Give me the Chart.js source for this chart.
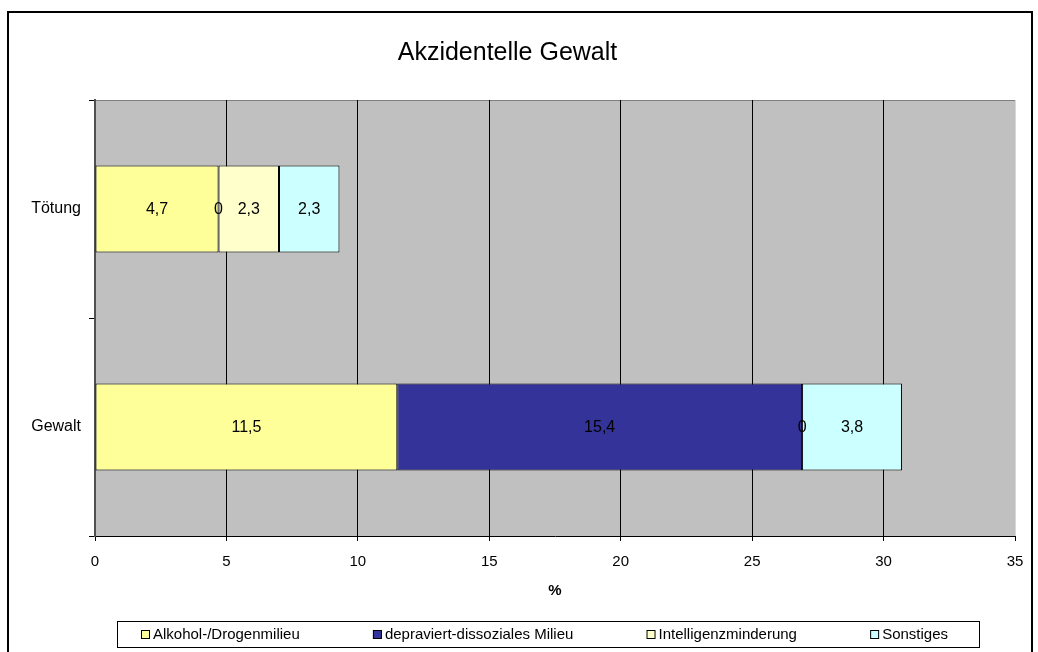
<!DOCTYPE html>
<html lang="de">
<head>
    <meta charset="UTF-8">
    <title>Akzidentelle Gewalt</title>
    <script src="https://cdn.jsdelivr.net/npm/chart.js@4.4.1/dist/chart.umd.min.js"></script>
    <style>
        body { margin: 0; background: #fff; }
        #wrap { width: 1038px; height: 652px; }
    </style>
</head>
<body>
    <div id="wrap">
        <canvas id="chart" width="1038" height="652"></canvas>
    </div>

    <script>
        // data
        const categories = ['Tötung', 'Gewalt'];
        const seriesNames = ['Alkohol-/Drogenmilieu', 'depraviert-dissoziales Milieu', 'Intelligenzminderung', 'Sonstiges'];
        const alkohol = [4.7, 11.5];
        const depraviert = [0, 15.4];
        const intelligenz = [2.3, 0];
        const sonstiges = [2.3, 3.8];
        const seriesColors = ['#FFFF99', '#333399', '#FFFFCC', '#CCFFFF'];
        const xMin = 0, xMax = 35, xStep = 5;

        const FONT = "'Liberation Sans', Arial, sans-serif";

        function fmt(v) {
            return String(v).replace('.', ',');
        }

        const values = [alkohol, depraviert, intelligenz, sonstiges];
        const datasets = seriesNames.map((name, i) => ({
            label: name,
            data: values[i],
            backgroundColor: seriesColors[i],
            borderColor: '#000',
            borderWidth: 1,
            borderSkipped: false,
            categoryPercentage: 1,
            barPercentage: 0.4
        }));

        // grey plot background + outer frame
        const frame = {
            id: 'frame',
            beforeDraw(chart) {
                const { ctx, chartArea: a } = chart;
                ctx.save();
                ctx.fillStyle = '#fff';
                ctx.fillRect(0, 0, chart.width, chart.height);
                ctx.fillStyle = '#C0C0C0';
                ctx.fillRect(a.left, a.top, a.right - a.left, a.bottom - a.top);
                ctx.strokeStyle = '#808080';
                ctx.lineWidth = 1;
                ctx.beginPath();
                ctx.moveTo(a.left - 6, a.top + 0.5);
                ctx.lineTo(a.right, a.top + 0.5);
                ctx.stroke();
                ctx.restore();
            },
            afterDraw(chart) {
                const ctx = chart.ctx;
                ctx.save();
                ctx.strokeStyle = '#000';
                ctx.lineWidth = 2;
                ctx.strokeRect(8, 12, 1024, 700);
                ctx.restore();
            }
        };

        // value labels in the middle of each segment
        const valueLabels = {
            id: 'valueLabels',
            afterDatasetsDraw(chart) {
                const ctx = chart.ctx;
                ctx.save();
                ctx.font = '16px ' + FONT;
                ctx.fillStyle = '#000';
                ctx.textAlign = 'center';
                ctx.textBaseline = 'middle';
                chart.data.datasets.forEach((ds, i) => {
                    chart.getDatasetMeta(i).data.forEach((bar, j) => {
                        const v = ds.data[j];
                        if (v === null || v === undefined) return;
                        ctx.fillText(fmt(v), (bar.x + bar.base) / 2, bar.y + 1);
                    });
                });
                ctx.restore();
            }
        };

        // boxed legend strip at the bottom
        const boxLegend = {
            id: 'boxLegend',
            afterDraw(chart) {
                const ctx = chart.ctx;
                const boxL = 117, boxR = 979, boxT = 621, boxB = 647;
                const startX = 141, endX = 948, sq = 9, gapText = 3;
                ctx.save();
                ctx.font = '15px ' + FONT;
                const widths = chart.data.datasets.map(ds => sq + gapText + ctx.measureText(ds.label).width);
                const total = widths.reduce((s, w) => s + w, 0);
                const gap = (endX - startX - total) / (widths.length - 1);
                ctx.strokeStyle = '#000';
                ctx.lineWidth = 1;
                ctx.strokeRect(boxL + 0.5, boxT + 0.5, boxR - boxL, boxB - boxT);
                const cy = (boxT + boxB) / 2;
                let x = startX;
                chart.data.datasets.forEach((ds, i) => {
                    ctx.fillStyle = ds.backgroundColor;
                    ctx.fillRect(x, cy - 4, sq, sq);
                    ctx.strokeRect(x + 0.5, cy - 4 + 0.5, sq - 1, sq - 1);
                    ctx.fillStyle = '#000';
                    ctx.textAlign = 'left';
                    ctx.textBaseline = 'middle';
                    ctx.fillText(ds.label, x + sq + gapText, cy + 1);
                    x += widths[i] + gap;
                });
                ctx.restore();
            }
        };

        new Chart(document.getElementById('chart'), {
            type: 'bar',
            data: { labels: categories, datasets: datasets },
            plugins: [frame, valueLabels, boxLegend],
            options: {
                indexAxis: 'y',
                responsive: false,
                animation: false,
                layout: { padding: { left: 0, right: 23, top: 0, bottom: 52 } },
                plugins: {
                    legend: { display: false },
                    tooltip: { enabled: false },
                    title: {
                        display: true,
                        text: 'Akzidentelle Gewalt',
                        color: '#000',
                        font: { family: FONT, size: 25, weight: 'normal' },
                        padding: { top: 38, bottom: 32 }
                    }
                },
                scales: {
                    x: {
                        stacked: true,
                        min: xMin,
                        max: xMax,
                        ticks: {
                            stepSize: xStep,
                            color: '#000',
                            padding: 12,
                            font: { family: FONT, size: 15 }
                        },
                        grid: {
                            color: c => (c.tick && c.tick.value === xMax) ? '#d8d8d8' : '#000',
                            tickColor: '#000',
                            tickLength: 5,
                            lineWidth: 1
                        },
                        border: { display: true, color: '#000', width: 1 },
                        title: {
                            display: true,
                            text: '%',
                            color: '#000',
                            font: { family: FONT, size: 15, weight: 'bold' },
                            padding: 0
                        },
                        afterFit: s => { s.height = 64; }
                    },
                    y: {
                        stacked: true,
                        ticks: {
                            color: '#000',
                            padding: 8,
                            font: { family: FONT, size: 16 }
                        },
                        grid: {
                            offset: true,
                            drawOnChartArea: false,
                            color: '#000',
                            tickLength: 6
                        },
                        border: { display: true, color: '#505050', width: 2 },
                        afterFit: s => { s.width = 95; }
                    }
                }
            }
        });
    </script>
</body>
</html>
